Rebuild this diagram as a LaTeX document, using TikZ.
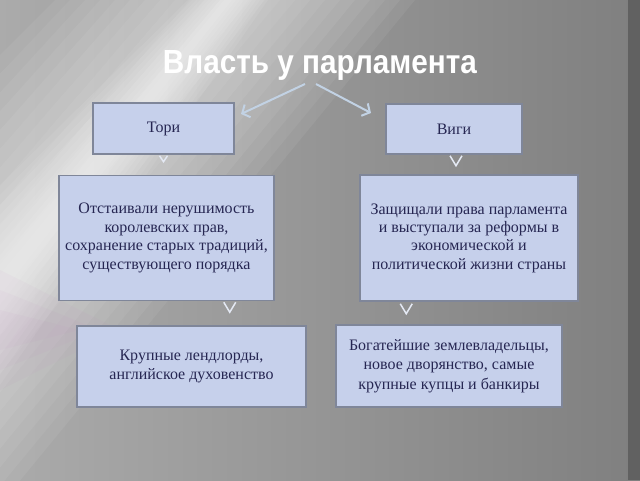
\documentclass[tikz,border=0pt]{standalone}
\usepackage{fontspec}
\setmainfont{Liberation Serif}
\newfontfamily\titlefont{Liberation Sans}
\usetikzlibrary{arrows.meta,calc}
\definecolor{boxfill}{HTML}{C6D0EB}
\definecolor{boxline}{HTML}{7F8699}
\definecolor{txt}{HTML}{262652}
\definecolor{arr}{HTML}{C2D2E4}
\definecolor{vcol}{HTML}{E4E9F4}
\begin{document}
\begin{tikzpicture}[x=1pt,y=-1pt,
  card/.style={draw=boxline, line width=1.5pt, fill=boxfill, text=txt,
    font=\fontsize{16}{18.4}\selectfont, align=center, inner sep=0pt},
  vmark/.style={draw=vcol, line width=1.5pt},
  pointer/.style={draw=arr, line width=2pt, -{Straight Barb[length=6pt,width=14pt]}}]
% background
\useasboundingbox (0,0) rectangle (640,480);
\shade[left color=black!33, right color=black!50] (0,0) rectangle (640,480);
\foreach \a in {15,30,...,180}{
  \fill[white, opacity=0.06] ({235-\a},0) -- ({235+\a},0) -- (0,{280+1.25*\a}) -- (0,{280-1.25*\a}) -- cycle;
}
\foreach \a in {10,20,...,100}{
  \fill[white, opacity=0.07] ({228-0.4*\a},0) -- ({228+0.4*\a},0) -- (0,{285+\a}) -- (0,{285-\a}) -- cycle;
}
\foreach \a in {20,40,60}{
  \fill[violet!50, opacity=0.05] (0,{330-\a}) -- ({60+\a},330) -- (0,{330+\a}) -- cycle;
}
\fill[black!62] (628,0) rectangle (640,480);
% title
\node[anchor=base, text=white, inner sep=0pt] (title) at (320,73)
  {\resizebox{314pt}{23pt}{\titlefont\bfseries Власть у парламента}};
\coordinate (ls) at (305,84);
\coordinate (le) at (241,114);
\coordinate (rs) at (316,84);
\coordinate (re) at (371,113);
\draw[pointer] (ls) -- (le);
\draw[pointer] (rs) -- (re);
% boxes
\node[card, minimum width=141pt, minimum height=51pt] (tori) at (163.5,128.5) {Тори};
\node[card, minimum width=136pt, minimum height=50pt] (vigi) at (454,129) {Виги};
\node[card, minimum width=215pt, minimum height=125pt] (tdesc) at (166.5,238)
  {Отстаивали нерушимость\\королевских прав,\\сохранение старых традиций,\\существующего порядка};
\node[card, minimum width=218pt, minimum height=126pt] (vdesc) at (469,238)
  {Защищали права парламента\\и выступали за реформы в\\экономической и\\политической жизни страны};
\node[card, minimum width=229pt, minimum height=81pt] (tsoc) at (191.5,366.5)
  {Крупные лендлорды,\\английское духовенство};
\node[card, minimum width=226pt, minimum height=82pt, font=\fontsize{16}{19.5}\selectfont] (vsoc) at (449,366)
  {Богатейшие землевладельцы,\\новое дворянство, самые\\крупные купцы и банкиры};
% pointer marks
\draw[vmark] ($(tori.south)+(-4,1)$) -- ++(4,6) -- ++(4,-6);
\draw[vmark] ($(vigi.south)+(-4,1)$) -- ++(6,10) -- ++(6,-10);
\draw[vmark] ($(tdesc.south east)+(-51,1)$) -- ++(6,10) -- ++(6,-10);
\draw[vmark] ($(vdesc.south west)+(41,2)$) -- ++(6,10) -- ++(6,-10);
\end{tikzpicture}
\end{document}
